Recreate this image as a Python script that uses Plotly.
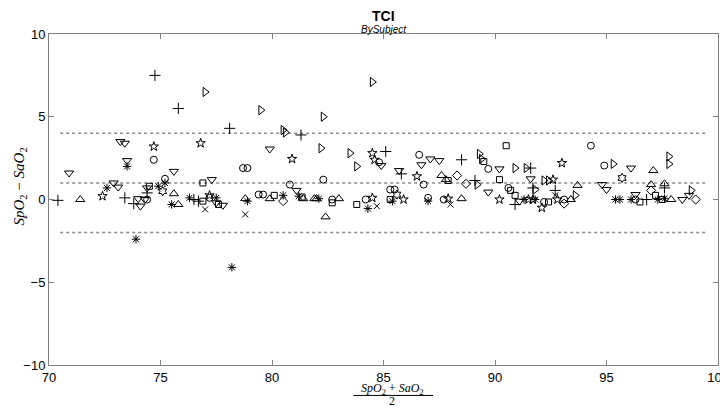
import plotly.graph_objects as go

# ---- data ----
plus_x = [70.4, 75.8, 74.4, 73.4, 73.8, 74.75, 78.1, 76.5, 76.7, 81.3, 85.1, 85.8, 88.5, 89.1, 91.6, 91.7, 92.7, 90.9, 96.8, 97.6]
plus_y = [-0.05, 5.5, 0.4, 0.1, -0.25, 7.5, 4.3, 0.0, -0.1, 3.9, 2.9, 1.55, 2.4, 1.15, 1.9, 0.7, 0.55, -0.3, 0.0, 0.7]

circle_x = [74.4, 74.7, 75.2, 77.2, 78.7, 78.9, 79.4, 79.6, 80.8, 82.3, 82.7, 84.2, 84.8, 85.3, 85.5, 86.6, 86.8, 87.0, 87.7, 89.7, 90.6, 94.3, 94.9, 92.2, 93.1, 96.3]
circle_y = [0.0, 2.4, 1.25, 0.1, 1.9, 1.9, 0.3, 0.3, 0.9, 1.2, 0.0, 0.0, 2.25, 0.6, 0.6, 2.7, 0.9, 0.1, 0.0, 1.85, 0.7, 3.25, 2.05, -0.15, 0.0, 0.0]

aster_x = [72.6, 73.5, 74.9, 75.2, 75.5, 73.9, 76.3, 77.5, 78.9, 78.2, 80.5, 81.2, 82.1, 84.3, 85.4, 87.0, 91.3, 91.8, 95.4, 95.6, 96.1, 97.3, 97.6]
aster_y = [0.7, 2.0, 0.8, 1.0, -0.3, -2.4, 0.1, 0.1, -0.1, -4.1, 0.25, 0.2, 0.05, -0.55, -0.1, -0.1, 0.0, 0.0, 0.0, 0.0, 0.0, 0.0, 0.05]

cross_x = [77.0, 78.8, 84.7, 88.0, 92.7]
cross_y = [-0.6, -0.9, -0.4, -0.3, 0.25]

square_x = [74.5, 76.9, 76.9, 77.6, 80.1, 81.35, 82.7, 83.8, 85.3, 87.9, 89.5, 90.5, 90.2, 90.7, 90.9, 92.4, 96.5, 97.2, 97.5]
square_y = [0.8, 1.0, -0.1, -0.3, 0.25, 0.15, -0.2, -0.3, 0.0, 1.15, 2.3, 3.25, 1.2, 0.55, 0.25, -0.15, -0.15, 0.25, 0.0]

diamond_x = [80.5, 88.3, 88.7, 97.0, 93.1, 99.0]
diamond_y = [-0.1, 1.45, 0.95, 0.55, -0.25, 0.0]

tri_up_x = [71.4, 75.6, 75.8, 78.8, 79.9, 81.4, 81.9, 82.0, 83.0, 82.4, 87.6, 87.8, 88.5, 93.7, 93.4, 97.0, 97.6, 97.1, 97.9]
tri_up_y = [0.0, 0.35, -0.3, 0.05, 0.05, 0.05, 0.05, 0.05, 0.05, -1.05, 1.45, 1.2, 0.05, 0.85, 0.0, 0.9, 0.95, 1.75, 0.0]

tri_down_x = [70.9, 72.9, 73.1, 73.2, 73.4, 73.5, 75.6, 74.0, 74.3, 74.1, 74.4, 77.3, 77.5, 77.8, 79.9, 81.1, 84.9, 85.7, 86.7, 87.1, 87.5, 89.7, 90.2, 91.6, 91.1, 94.8, 95.0, 96.1, 96.3, 98.4, 98.7]
tri_down_y = [1.6, 1.0, 0.75, 3.5, 3.4, 2.35, 1.7, 0.05, 0.0, -0.4, 0.7, 1.2, -0.2, -0.35, 3.05, 0.55, 2.05, 1.75, 2.1, 2.45, 2.35, 0.45, 1.85, 1.25, -0.1, 0.9, 0.6, 1.9, 0.3, 0.0, 0.25]

tri_right_x = [77.0, 79.5, 80.5, 80.6, 82.3, 82.2, 83.5, 83.8, 84.5, 89.2, 89.3, 89.4, 90.9, 91.4, 91.8, 92.2, 92.4, 93.6, 95.3, 97.8, 97.8, 98.8]
tri_right_y = [6.5, 5.4, 4.2, 4.05, 5.0, 3.1, 2.8, 2.0, 7.1, 0.9, 2.75, 2.45, 1.9, 1.9, 0.6, 1.15, 1.15, 0.25, 2.15, 2.6, 2.15, 0.55]

star_x = [72.4, 74.7, 76.8, 77.2, 80.9, 84.5, 84.6, 84.5, 85.9, 86.5, 87.9, 90.2, 91.5, 91.7, 92.1, 92.6, 92.8, 93.0]
star_y = [0.2, 3.2, 3.4, 0.25, 2.45, 2.8, 2.4, 0.1, 0.0, 1.4, 0.05, 0.0, 0.0, 0.0, -0.5, 1.2, 0.0, 2.2]

hexa_x = [75.1, 85.6, 95.7]
hexa_y = [0.5, 0.3, 1.3]

ref_levels = [4.0, 1.0, -2.0]
ref_span = [70.5, 99.5]

x_ticks = [70, 75, 80, 85, 90, 95, 100]
y_ticks = [-10, -5, 0, 5, 10]

# ---- figure ----
fig = go.Figure()

for lv in ref_levels:
    fig.add_trace(go.Scatter(x=ref_span, y=[lv, lv], mode="lines",
                             line=dict(color="#8c8c8c", width=1.5, dash="dot"),
                             hoverinfo="skip", showlegend=False))

groups = [
    (plus_x, plus_y, "cross-thin-open", 8),
    (circle_x, circle_y, "circle-open", 7),
    (aster_x, aster_y, "asterisk-open", 7),
    (cross_x, cross_y, "x-thin-open", 6),
    (square_x, square_y, "square-open", 6),
    (diamond_x, diamond_y, "diamond-open", 7),
    (tri_up_x, tri_up_y, "triangle-up-open", 8),
    (tri_down_x, tri_down_y, "triangle-down-open", 8),
    (tri_right_x, tri_right_y, "triangle-right-open", 8),
    (star_x, star_y, "star-open", 7),
    (hexa_x, hexa_y, "hexagram-open", 7),
]
for gx, gy, sym, sz in groups:
    fig.add_trace(go.Scatter(x=gx, y=gy, mode="markers", showlegend=False,
                             marker=dict(symbol=sym, size=sz, color="black",
                                         line=dict(color="black", width=1))))

axis_common = dict(showline=True, linecolor="#7f7f7f", linewidth=1, mirror="allticks",
                   ticks="inside", ticklen=5, tickcolor="#7f7f7f", showgrid=False,
                   zeroline=False, automargin=False, ticklabeloverflow="allow",
                   tickfont=dict(family="Liberation Sans, Arial", size=13, color="black"))

fig.update_xaxes(range=[70, 100], tickvals=x_ticks, **axis_common)
fig.update_yaxes(range=[-10, 10], tickvals=y_ticks, **axis_common)

serif = "Liberation Serif, Times New Roman, serif"
# the page body adds an 8px offset; margins are chosen so the plot area lands where the reference has it
fig.update_layout(
    width=728, height=398,
    margin=dict(l=41, r=18, t=26, b=41, autoexpand=False),
    paper_bgcolor="white", plot_bgcolor="white",
    annotations=[
        dict(text="<b>TCI</b>", x=0.5, y=1.054, xref="paper", yref="paper",
             xanchor="center", yanchor="middle", showarrow=False,
             font=dict(family="Liberation Sans, Arial", size=14, color="black")),
        dict(text="<i>BySubject</i>", x=0.5, y=1.015, xref="paper", yref="paper",
             xanchor="center", yanchor="middle", showarrow=False,
             font=dict(family="Liberation Sans, Arial", size=10, color="black")),
        dict(text="<i>SpO</i><sub>2</sub> − <i>SaO</i><sub>2</sub>", x=-0.043, y=0.54,
             xref="paper", yref="paper", xanchor="center", yanchor="middle",
             textangle=-90, showarrow=False,
             font=dict(family=serif, size=15, color="black")),
        dict(text="<i>SpO</i><sub>2</sub> + <i>SaO</i><sub>2</sub>", x=0.513, y=-0.074,
             xref="paper", yref="paper", xanchor="center", yanchor="middle", showarrow=False,
             font=dict(family=serif, size=12, color="black")),
        dict(text="2", x=0.513, y=-0.110, xref="paper", yref="paper", showarrow=False,
             xanchor="center", yanchor="middle", font=dict(family=serif, size=12, color="black")),
    ],
    shapes=[
        dict(type="line", xref="paper", yref="paper", x0=0.455, x1=0.574,
             y0=-0.092, y1=-0.092, line=dict(color="black", width=1)),
    ],
)

fig.write_html("out.html")
